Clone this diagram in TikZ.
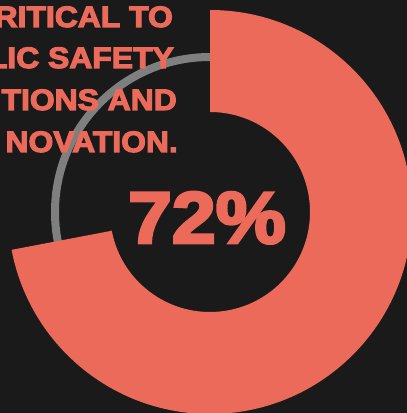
\documentclass[tikz,border=0pt]{standalone}
\usepackage{fontspec}
\setmainfont{Liberation Sans}
\newfontfamily\heavyfont[FakeBold=4,FakeStretch=1.08]{Liberation Sans Bold}
\definecolor{coral}{HTML}{EB6A5A}
\definecolor{board}{HTML}{1B1A1A}
\definecolor{track}{HTML}{7F7F7F}
\begin{document}
\begin{tikzpicture}[x=1pt,y=1pt,
    headline/.style={anchor=base east, inner sep=0pt, text=coral,
        font=\heavyfont\fontsize{29.5}{36}\selectfont},
    bignum/.style={anchor=base, inner sep=0pt, text=coral,
        font=\heavyfont\fontsize{73}{90}\selectfont}]
\useasboundingbox (0,0) rectangle (407,413);
\clip (0,0) rectangle (407,413);
\fill[board] (0,0) rectangle (407,413);
\coordinate (c) at (210,201);
% grey track under the arc
\draw[track, line width=8pt] (c) circle[radius=155];
% 72 percent of the ring, clockwise from the top
\fill[coral] ([shift={(90:202)}]c) arc[start angle=90, end angle=-169.2, radius=202]
    -- ([shift={(-169.2:100)}]c) arc[start angle=-169.2, end angle=90, radius=100] -- cycle;
\node[bignum] (pct) at (207,170) {72\%};
\node[headline] (l1) at (173,386) {RITICAL TO};
\node[headline] (l2) at (174,345) {LIC SAFETY};
\node[headline] (l3) at (177,303) {TIONS AND};
\node[headline] (l4) at (178,261) {NOVATION.};
\end{tikzpicture}
\end{document}
